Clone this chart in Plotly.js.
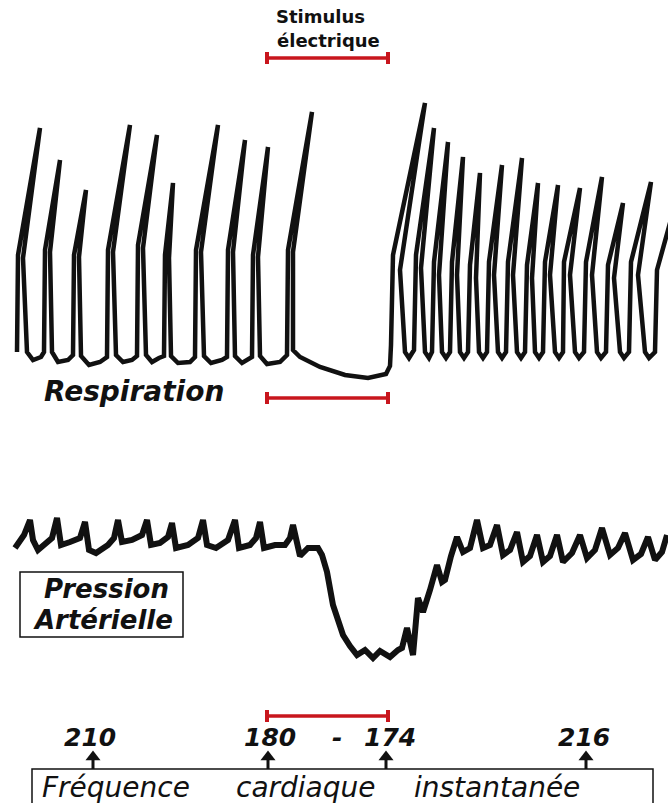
<!DOCTYPE html>
<html>
<head>
<meta charset="utf-8">
<script src="https://cdn.plot.ly/plotly-3.0.1.min.js"></script>
<style>html,body{margin:0;padding:0;background:#fff;}#chart{width:668px;height:803px;}</style>
</head>
<body>
<div id="chart"></div>
<script>
// Respiration recording (time along x, pen position along y), vertices
var respX = [17,18,40,23,27,33,41, 44,45,60,50,52,58,68, 73,74,86,79,81,89,100, 107,108,130,113,116,123,132,
  137,138,157,143,146,152,159, 164,165,173,169,171,178,190, 195,196,218,201,204,211,222, 227,228,245,233,235,242,248,
  252,253,268,258,260,267,280, 287,288,312,293,293,300,320,345,368,386,390,
  391,393,425,400,405,409, 414,416,434,421,425,429, 432,434,448,439,442,446, 450,452,463,457,460,464,
  468,470,480,476,479,483, 487,489,502,494,498,502, 506,508,522,513,517,521, 525,527,538,532,535,539,
  543,545,558,550,555,559, 563,564,580,570,575,579, 584,586,602,592,597,601, 606,608,623,614,620,624,
  629,631,651,638,645,649, 655,657,675];
var respY = [352,255,128,258,352,360,357, 352,250,160,252,352,362,360, 355,255,190,257,356,365,362, 357,250,125,252,355,362,360,
  356,245,135,248,355,362,358, 356,255,183,258,356,363,362, 357,250,125,252,356,363,360, 357,250,140,252,356,363,360,
  357,255,147,257,356,364,362, 355,250,112,252,350,357,367,375,378,374,366,
  345,255,103,270,352,358, 350,255,128,268,352,358, 352,262,142,275,352,358, 352,262,157,275,352,358,
  352,265,173,278,352,358, 352,262,165,275,352,358, 352,262,158,275,352,358, 352,265,183,278,352,358,
  352,262,185,275,352,358, 352,262,188,275,352,358, 352,262,177,275,352,358, 352,265,203,278,352,358,
  352,262,182,275,352,358, 352,270,205];

// Arterial pressure recording
var pressX = [15,20,24,30,33,38,45,52,57,61,70,80,85,89,96,108,114,118,122,132,142,147,151,160,168,172,176,
  188,198,203,207,216,228,235,239,250,256,260,264,275,285,290,293,300,308,318,322,327,333,338,343,350,
  357,365,373,380,390,398,402,407,410,413,418,423,430,437,442,445,451,457,463,470,477,483,490,497,503,
  510,517,523,530,537,543,550,557,563,572,580,587,595,602,610,618,625,633,641,648,655,662,667];
var pressY = [548,542,535,520,540,550,543,538,518,545,542,538,522,550,553,545,538,520,542,540,535,520,545,543,537,523,548,
  545,538,520,545,548,540,520,548,545,538,522,548,545,545,538,525,556,548,548,555,572,605,622,635,646,
  655,650,658,651,657,650,648,628,640,655,598,612,590,565,582,580,556,537,552,548,520,548,545,525,555,
  550,532,562,556,535,562,556,535,562,553,535,558,550,528,555,548,533,560,554,537,560,552,535];

// Stimulus interval, heart-rate readings
var stimStart = 267, stimEnd = 388;
var hrTime = [93, 268, 386, 586];
var hrValue = ['210', '180', '174', '216'];
var hrLabelX = [90, 270, 390, 584];
var freqWords = ['Fréquence', 'cardiaque', 'instantanée'];
var freqWordX = [116, 306, 497];

var black = '#111111';
var red = '#c8161d';

var traces = [
  {x: respX, y: respY, mode: 'lines', line: {color: black, width: 4.5, shape: 'linear'}, hoverinfo: 'skip'},
  {x: pressX, y: pressY, mode: 'lines', line: {color: black, width: 6, shape: 'linear'}, hoverinfo: 'skip'},
  {x: hrTime, y: hrTime.map(function () { return 757; }), mode: 'markers',
   marker: {symbol: 'triangle-up', size: 13, color: black, line: {width: 0}}, hoverinfo: 'skip'}
];

var shapes = [];
[58, 398, 716].forEach(function (yy) {
  shapes.push({type: 'line', xref: 'x', yref: 'y', x0: stimStart, x1: stimEnd, y0: yy, y1: yy, line: {color: red, width: 3.5}});
  shapes.push({type: 'line', xref: 'x', yref: 'y', x0: stimStart, x1: stimStart, y0: yy - 6, y1: yy + 6, line: {color: red, width: 4}});
  shapes.push({type: 'line', xref: 'x', yref: 'y', x0: stimEnd, x1: stimEnd, y0: yy - 6, y1: yy + 6, line: {color: red, width: 4}});
});
hrTime.forEach(function (t) {
  shapes.push({type: 'line', xref: 'x', yref: 'y', x0: t, x1: t, y0: 759, y1: 769, line: {color: black, width: 3}});
});
shapes.push({type: 'rect', xref: 'x', yref: 'y', x0: 20, x1: 183, y0: 572, y1: 637, line: {color: black, width: 1.5}});
shapes.push({type: 'rect', xref: 'x', yref: 'y', x0: 32, x1: 653, y0: 769, y1: 820, line: {color: black, width: 1.5}});

var F = 'DejaVu Sans, Liberation Sans, Arial, sans-serif';
var ann = [];
ann.push({x: 320, y: 16, xref: 'x', yref: 'y', text: '<b>Stimulus</b>', showarrow: false, font: {family: F, size: 18, color: black}});
ann.push({x: 328, y: 40, xref: 'x', yref: 'y', text: '<b>électrique</b>', showarrow: false, font: {family: F, size: 18, color: black}});
ann.push({x: 134, y: 391, xref: 'x', yref: 'y', text: '<b><i>Respiration</i></b>', showarrow: false, font: {family: F, size: 28, color: black}});
ann.push({x: 106, y: 589, xref: 'x', yref: 'y', text: '<b><i>Pression</i></b>', showarrow: false, font: {family: F, size: 26, color: black}});
ann.push({x: 103, y: 620, xref: 'x', yref: 'y', text: '<b><i>Artérielle</i></b>', showarrow: false, font: {family: F, size: 26, color: black}});
for (var i = 0; i < hrValue.length; i++) {
  ann.push({x: hrLabelX[i], y: 737, xref: 'x', yref: 'y', text: '<b><i>' + hrValue[i] + '</i></b>', showarrow: false, font: {family: F, size: 25, color: black}});
}
ann.push({x: 337, y: 737, xref: 'x', yref: 'y', text: '<b><i>-</i></b>', showarrow: false, font: {family: F, size: 25, color: black}});
for (var j = 0; j < freqWords.length; j++) {
  ann.push({x: freqWordX[j], y: 787, xref: 'x', yref: 'y', text: '<i>' + freqWords[j] + '</i>', showarrow: false, font: {family: F, size: 28, color: black}});
}

var layout = {
  width: 668, height: 803,
  margin: {l: 0, r: 0, t: 0, b: 0, pad: 0},
  paper_bgcolor: '#ffffff', plot_bgcolor: '#ffffff',
  showlegend: false,
  xaxis: {range: [0, 668], visible: false, fixedrange: true},
  yaxis: {range: [803, 0], visible: false, fixedrange: true},
  shapes: shapes,
  annotations: ann
};

Plotly.newPlot('chart', traces, layout, {staticPlot: true, displayModeBar: false});
</script>
</body>
</html>
